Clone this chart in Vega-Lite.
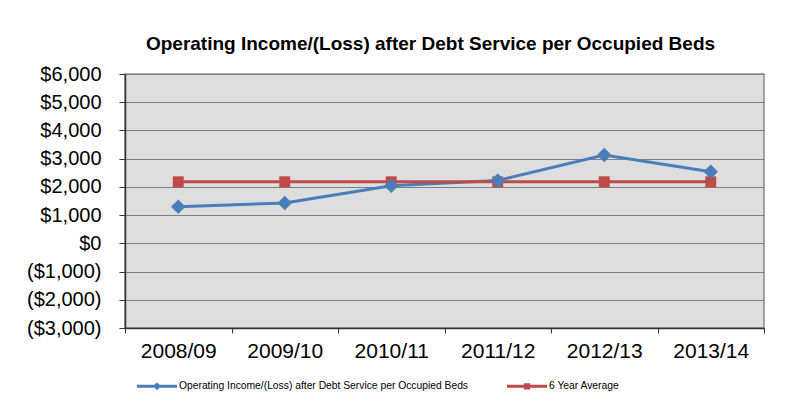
{
  "$schema": "https://vega.github.io/schema/vega-lite/v6.json",
  "width": 639,
  "height": 254,
  "autosize": "none",
  "padding": {"left": 125, "top": 74, "right": 40, "bottom": 87},
  "background": "white",
  "config": {
    "font": "Liberation Sans",
    "view": {"fill": "#dedede", "stroke": "#8c8c8c", "strokeWidth": 1.5}
  },
  "title": {
    "text": "Operating Income/(Loss) after Debt Service per Occupied Beds",
    "fontSize": 19,
    "fontWeight": "bold",
    "font": "Liberation Sans",
    "color": "black",
    "anchor": "middle",
    "dx": -14,
    "offset": 10
  },
  "data": {
    "values": [
      {"year": "2008/09", "series": "Operating Income/(Loss)  after Debt Service per Occupied Beds", "value": 1300},
      {"year": "2009/10", "series": "Operating Income/(Loss)  after Debt Service per Occupied Beds", "value": 1430},
      {"year": "2010/11", "series": "Operating Income/(Loss)  after Debt Service per Occupied Beds", "value": 2040},
      {"year": "2011/12", "series": "Operating Income/(Loss)  after Debt Service per Occupied Beds", "value": 2230},
      {"year": "2012/13", "series": "Operating Income/(Loss)  after Debt Service per Occupied Beds", "value": 3130},
      {"year": "2013/14", "series": "Operating Income/(Loss)  after Debt Service per Occupied Beds", "value": 2540},
      {"year": "2008/09", "series": "6 Year Average", "value": 2180},
      {"year": "2009/10", "series": "6 Year Average", "value": 2180},
      {"year": "2010/11", "series": "6 Year Average", "value": 2180},
      {"year": "2011/12", "series": "6 Year Average", "value": 2180},
      {"year": "2012/13", "series": "6 Year Average", "value": 2180},
      {"year": "2013/14", "series": "6 Year Average", "value": 2180}
    ]
  },
  "encoding": {
    "x": {
      "field": "year",
      "type": "nominal",
      "sort": null,
      "scale": {"type": "band", "paddingInner": 0, "paddingOuter": 0},
      "axis": {
        "title": null,
        "labelAngle": 0,
        "labelFontSize": 21,
        "labelColor": "black",
        "labelPadding": 7,
        "tickBand": "extent",
        "tickSize": 5,
        "tickColor": "#333",
        "domainColor": "#333",
        "domainWidth": 1.5,
        "grid": false
      }
    },
    "y": {
      "field": "value",
      "type": "quantitative",
      "scale": {"domain": [-3000, 6000], "nice": false, "zero": false},
      "axis": {
        "title": null,
        "values": [-3000, -2000, -1000, 0, 1000, 2000, 3000, 4000, 5000, 6000],
        "labelExpr": "datum.value < 0 ? '($' + format(-datum.value, ',') + ')' : '$' + format(datum.value, ',')",
        "labelFontSize": 20,
        "labelColor": "black",
        "labelPadding": 18,
        "tickSize": 6,
        "tickColor": "#333",
        "domainColor": "#333",
        "domainWidth": 1.5,
        "grid": true,
        "gridColor": "#7f7f7f",
        "gridWidth": 1.2
      }
    },
    "color": {
      "field": "series",
      "type": "nominal",
      "sort": null,
      "scale": {
        "domain": ["Operating Income/(Loss)  after Debt Service per Occupied Beds", "6 Year Average"],
        "range": ["#4a7ebb", "#be4b48"]
      }
    }
  },
  "layer": [
    {
      "mark": {"type": "line", "strokeWidth": 3},
      "encoding": {
        "color": {
          "field": "series",
          "type": "nominal",
          "sort": null,
          "scale": {
            "domain": ["Operating Income/(Loss)  after Debt Service per Occupied Beds", "6 Year Average"],
            "range": ["#4a7ebb", "#be4b48"]
          },
          "legend": {
            "title": null,
            "orient": "none",
            "legendX": 12,
            "legendY": 292,
            "direction": "horizontal",
            "labelFontSize": 10.3,
            "labelColor": "black",
            "labelLimit": 500,
            "labelOffset": 2,
            "columnPadding": 36,
            "symbolSize": 1600,
            "symbolStrokeWidth": 0,
            "symbolOpacity": 1,
            "encode": {
              "symbols": {
                "update": {
                  "shape": {"signal": "datum.index === 0 ? 'M-1,-0.075H1V0.075H-1Z M0,-0.2L0.2,0L0,0.2L-0.2,0Z' : 'M-1,-0.075H1V0.075H-1Z M-0.16,-0.16H0.16V0.16H-0.16Z'"},
                  "fill": {"signal": "datum.index === 0 ? '#4a7ebb' : '#be4b48'"},
                  "strokeWidth": {"value": 0}
                }
              }
            }
          }
        }
      }
    },
    {
      "transform": [{"filter": "datum.series === '6 Year Average'"}],
      "mark": {"type": "point", "filled": true, "opacity": 1, "shape": "square", "size": 120}
    },
    {
      "transform": [{"filter": "datum.series !== '6 Year Average'"}],
      "mark": {"type": "point", "filled": true, "opacity": 1, "shape": "diamond", "size": 210}
    }
  ]
}
